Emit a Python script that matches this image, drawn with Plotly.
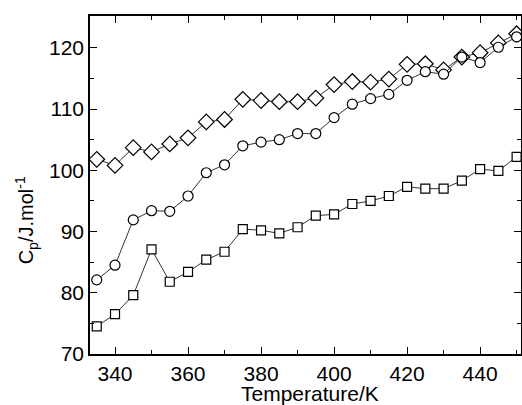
import plotly.graph_objects as go

temperatura = [335, 340, 345, 350, 355, 360, 365, 370, 375, 380, 385, 390,
               395, 400, 405, 410, 415, 420, 425, 430, 435, 440, 445, 450]

cp_losango = [101.8, 100.8, 103.7, 103.0, 104.3, 105.3, 107.9, 108.3, 111.6, 111.4, 111.2, 111.2,
              111.8, 114.0, 114.5, 114.4, 114.9, 117.3, 117.4, 116.4, 118.5, 119.2, 120.8, 122.3]

cp_circulo = [82.1, 84.5, 91.9, 93.4, 93.3, 95.8, 99.6, 100.9, 104.0, 104.6, 105.0, 106.0,
              106.0, 108.6, 110.8, 111.7, 112.4, 114.7, 116.1, 115.7, 118.5, 117.6, 120.1, 121.8]

cp_quadrado = [74.5, 76.5, 79.6, 87.1, 81.8, 83.4, 85.4, 86.7, 90.4, 90.2, 89.7, 90.7,
               92.6, 92.8, 94.5, 95.0, 95.8, 97.3, 97.0, 97.0, 98.3, 100.2, 99.9, 102.2]

fonte = "Liberation Sans, Arial, sans-serif"

fig = go.Figure()

# tres series com marcadores abertos (preenchidos de branco para esconder a linha)
for y, simbolo, tam in [(cp_losango, "diamond", 12),
                        (cp_circulo, "circle", 10),
                        (cp_quadrado, "square", 9)]:
    fig.add_trace(go.Scatter(
        x=temperatura,
        y=y,
        mode="lines+markers",
        line=dict(color="#333333", width=1),
        marker=dict(symbol=simbolo, size=tam, color="white",
                    line=dict(color="black", width=1.2)),
        showlegend=False
    ))

eixo = dict(
    showline=True,
    linecolor="black",
    linewidth=1.5,
    mirror="ticks",
    ticks="inside",
    ticklen=7,
    tickwidth=1.2,
    tickcolor="black",
    showgrid=False,
    zeroline=False,
    automargin=False,
    tickfont=dict(family=fonte, size=21, color="black"),
)

fig.update_layout(
    width=522,
    height=405,
    margin=dict(l=90, r=1, t=16, b=51),
    paper_bgcolor="white",
    plot_bgcolor="white",
    font=dict(family=fonte, color="black"),
    xaxis=dict(
        eixo,
        range=[333.15, 451.2],
        tickvals=[340, 360, 380, 400, 420, 440],
        minor=dict(tickvals=[350, 370, 390, 410, 430, 450], ticks="inside",
                   ticklen=4, tickcolor="black", tickwidth=1),
    ),
    yaxis=dict(
        eixo,
        range=[70, 125.2],
        tickvals=[70, 80, 90, 100, 110, 120],
        minor=dict(tickvals=[75, 85, 95, 105, 115], ticks="inside",
                   ticklen=4, tickcolor="black", tickwidth=1),
    ),
)

# titulos dos eixos como anotacoes para controlar a posicao
fig.add_annotation(text="Temperature/K", xref="paper", yref="paper",
                   x=0.51, y=-0.118, xanchor="center", yanchor="middle",
                   showarrow=False, font=dict(size=21))
fig.add_annotation(text="C<sub>p</sub>/J.mol<sup>-1</sup>", xref="paper", yref="paper",
                   x=-0.148, y=0.396, xanchor="center", yanchor="middle",
                   textangle=-90, showarrow=False, font=dict(size=20))

# tira a margem padrao do body para o grafico ficar no canto
fig.write_html("out.html", config={"displayModeBar": False},
               post_script="document.body.style.margin='0px';")
